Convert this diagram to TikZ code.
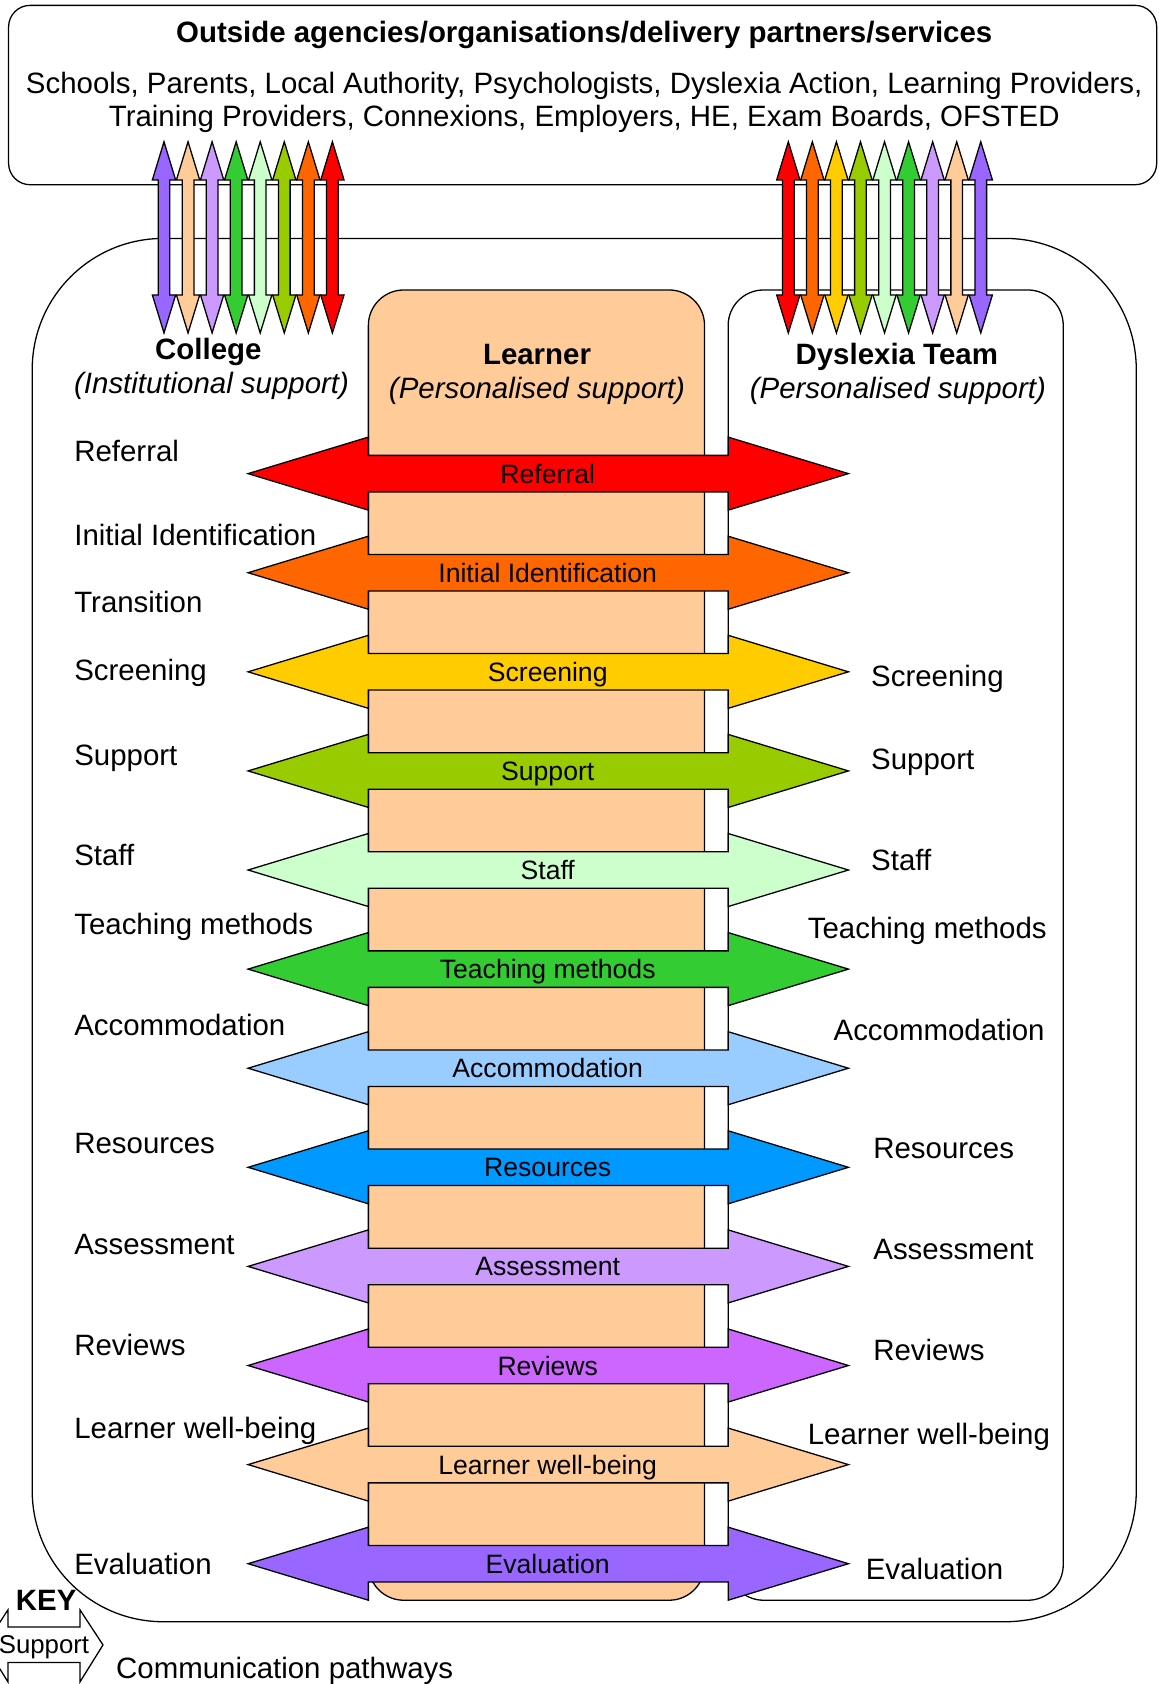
\documentclass[tikz,border=0pt]{standalone}
\usepackage{fontspec}
\setmainfont{Liberation Sans}
\definecolor{cRef}{HTML}{FF0000}
\definecolor{cInit}{HTML}{FF6600}
\definecolor{cScr}{HTML}{FFCC00}
\definecolor{cSup}{HTML}{99CC00}
\definecolor{cStaff}{HTML}{CCFFCC}
\definecolor{cTeach}{HTML}{33CC33}
\definecolor{cAcc}{HTML}{99CCFF}
\definecolor{cRes}{HTML}{0099FF}
\definecolor{cAss}{HTML}{CC99FF}
\definecolor{cRev}{HTML}{CC66FF}
\definecolor{cWell}{HTML}{FFCC99}
\definecolor{cEva}{HTML}{9966FF}
\definecolor{peach}{HTML}{FFCC99}
\tikzset{
  boxline/.style={draw=black, line width=1.2pt, line join=miter},
  sidelbl/.style={font=\fontsize{27.4}{32}\selectfont, inner sep=0pt, text height=19.5pt, text depth=0pt},
  headlbl/.style={font=\fontsize{27.4}{32}\selectfont\bfseries, inner sep=0pt, text height=19.5pt, text depth=0pt},
  sublbl/.style={font=\fontsize{27.4}{32}\selectfont\itshape, inner sep=0pt, text height=19.5pt, text depth=0pt},
  arrlbl/.style={font=\fontsize{24.75}{29}\selectfont, inner sep=0pt, text height=17.7pt, text depth=0pt},
}
\begin{document}
\begin{tikzpicture}[x=1pt,y=-1pt]
\useasboundingbox (0,0) rectangle (1079,1568);
\clip (0,0) rectangle (1079,1568);
\fill[white] (0,0) rectangle (1079,1568);

% outside agencies box
\draw[boxline, rounded corners=20pt] (8,5) rectangle (1077,172);
\node[headlbl] (title) at (544,30) {Outside agencies/organisations/delivery partners/services};
\node[sidelbl] (agencies1) at (544,77) {Schools, Parents, Local Authority, Psychologists, Dyslexia Action, Learning Providers,};
\node[sidelbl] (agencies2) at (544,108) {Training Providers, Connexions, Employers, HE, Exam Boards, OFSTED};

% main box
\draw[boxline, rounded corners=122pt] (30,222) rectangle (1058,1510);
% learner box
\draw[boxline, fill=peach, rounded corners=33pt] (343,270) rectangle (656,1490);
% dyslexia team box
\draw[boxline, rounded corners=33pt] (678,270) rectangle (990,1490);

% headings
\node[headlbl] (college) at (194,325) {College};
\node[sublbl] (collegesub) at (197,357) {(Institutional support)};
\node[headlbl] (learner) at (500,330) {Learner};
\node[sublbl] (learnersub) at (500,361) {(Personalised support)};
\node[headlbl] (dteam) at (835,330) {Dyslexia Team};
\node[sublbl] (dteamsub) at (836,361) {(Personalised support)};

% horizontal double arrows
\foreach \i/\col/\txt in {0/cRef/Referral, 1/cInit/Initial Identification, 2/cScr/Screening, 3/cSup/Support, 4/cStaff/Staff, 5/cTeach/Teaching methods, 6/cAcc/Accommodation, 7/cRes/Resources, 8/cAss/Assessment, 9/cRev/Reviews, 10/cWell/Learner well-being, 11/cEva/Evaluation} {
  \pgfmathsetmacro\c{441+92.27*\i}
  \draw[boxline, fill=\col] (231,\c) -- (343,\c-34) -- (343,\c-17) -- (678,\c-17) -- (678,\c-34) -- (790,\c)
     -- (678,\c+34) -- (678,\c+17) -- (343,\c+17) -- (343,\c+34) -- cycle;
  \node[arrlbl] (arr\i) at (510,\c) {\txt};
}

% vertical arrows (communication pathways)
\foreach \k/\col in {0/cEva,1/cWell,2/cAss,3/cTeach,4/cStaff,5/cSup,6/cInit,7/cRef} {
  \pgfmathsetmacro\x{152.7+22.4*\k}
  \draw[boxline, fill=\col] (\x,132) -- (\x+10.85,167.6) -- (\x+5.45,167.6) -- (\x+5.45,274.6) -- (\x+10.85,274.6)
     -- (\x,310) -- (\x-10.85,274.6) -- (\x-5.45,274.6) -- (\x-5.45,167.6) -- (\x-10.85,167.6) -- cycle;
}
\foreach \k/\col in {0/cRef,1/cInit,2/cScr,3/cSup,4/cStaff,5/cTeach,6/cAss,7/cWell,8/cEva} {
  \pgfmathsetmacro\x{734+22.4*\k}
  \draw[boxline, fill=\col] (\x,132) -- (\x+10.85,167.6) -- (\x+5.45,167.6) -- (\x+5.45,274.6) -- (\x+10.85,274.6)
     -- (\x,310) -- (\x-10.85,274.6) -- (\x-5.45,274.6) -- (\x-5.45,167.6) -- (\x-10.85,167.6) -- cycle;
}

% college labels
\node[sidelbl, anchor=west] (cl1) at (69,420) {Referral};
\node[sidelbl, anchor=west] (cl2) at (69,498) {Initial Identification};
\node[sidelbl, anchor=west] (cl3) at (69,561) {Transition};
\node[sidelbl, anchor=west] (cl4) at (69,624) {Screening};
\node[sidelbl, anchor=west] (cl5) at (69,703) {Support};
\node[sidelbl, anchor=west] (cl6) at (69,796) {Staff};
\node[sidelbl, anchor=west] (cl7) at (69,860) {Teaching methods};
\node[sidelbl, anchor=west] (cl8) at (69,954) {Accommodation};
\node[sidelbl, anchor=west] (cl9) at (69,1064) {Resources};
\node[sidelbl, anchor=west] (cl10) at (69,1158) {Assessment};
\node[sidelbl, anchor=west] (cl11) at (69,1252) {Reviews};
\node[sidelbl, anchor=west] (cl12) at (69,1330) {Learner well-being};
\node[sidelbl, anchor=west] (cl13) at (69,1456) {Evaluation};

% dyslexia team labels
\node[sidelbl, anchor=west] (dl1) at (811,629) {Screening};
\node[sidelbl, anchor=west] (dl2) at (811,707) {Support};
\node[sidelbl, anchor=west] (dl3) at (811,801) {Staff};
\node[sidelbl, anchor=west] (dl4) at (752,864) {Teaching methods};
\node[sidelbl, anchor=west] (dl5) at (776,959) {Accommodation};
\node[sidelbl, anchor=west] (dl6) at (813,1069) {Resources};
\node[sidelbl, anchor=west] (dl7) at (813,1163) {Assessment};
\node[sidelbl, anchor=west] (dl8) at (813,1257) {Reviews};
\node[sidelbl, anchor=west] (dl9) at (752,1335) {Learner well-being};
\node[sidelbl, anchor=west] (dl10) at (806,1461) {Evaluation};

% key
\node[headlbl] (key) at (43,1490) {KEY};
\draw[boxline, fill=white] (-14,1531.6) -- (7.4,1499) -- (7.4,1515) -- (74.5,1515) -- (74.5,1499) -- (95.9,1531.6)
   -- (74.5,1566) -- (74.5,1548) -- (7.4,1548) -- (7.4,1566) -- cycle;
\node[font=\fontsize{24}{28}\selectfont, inner sep=0pt, text height=17pt, text depth=0pt] (keysup) at (41,1531) {Support};
\node[sidelbl, anchor=west] (keytxt) at (108,1553) {Communication pathways};
\end{tikzpicture}
\end{document}
